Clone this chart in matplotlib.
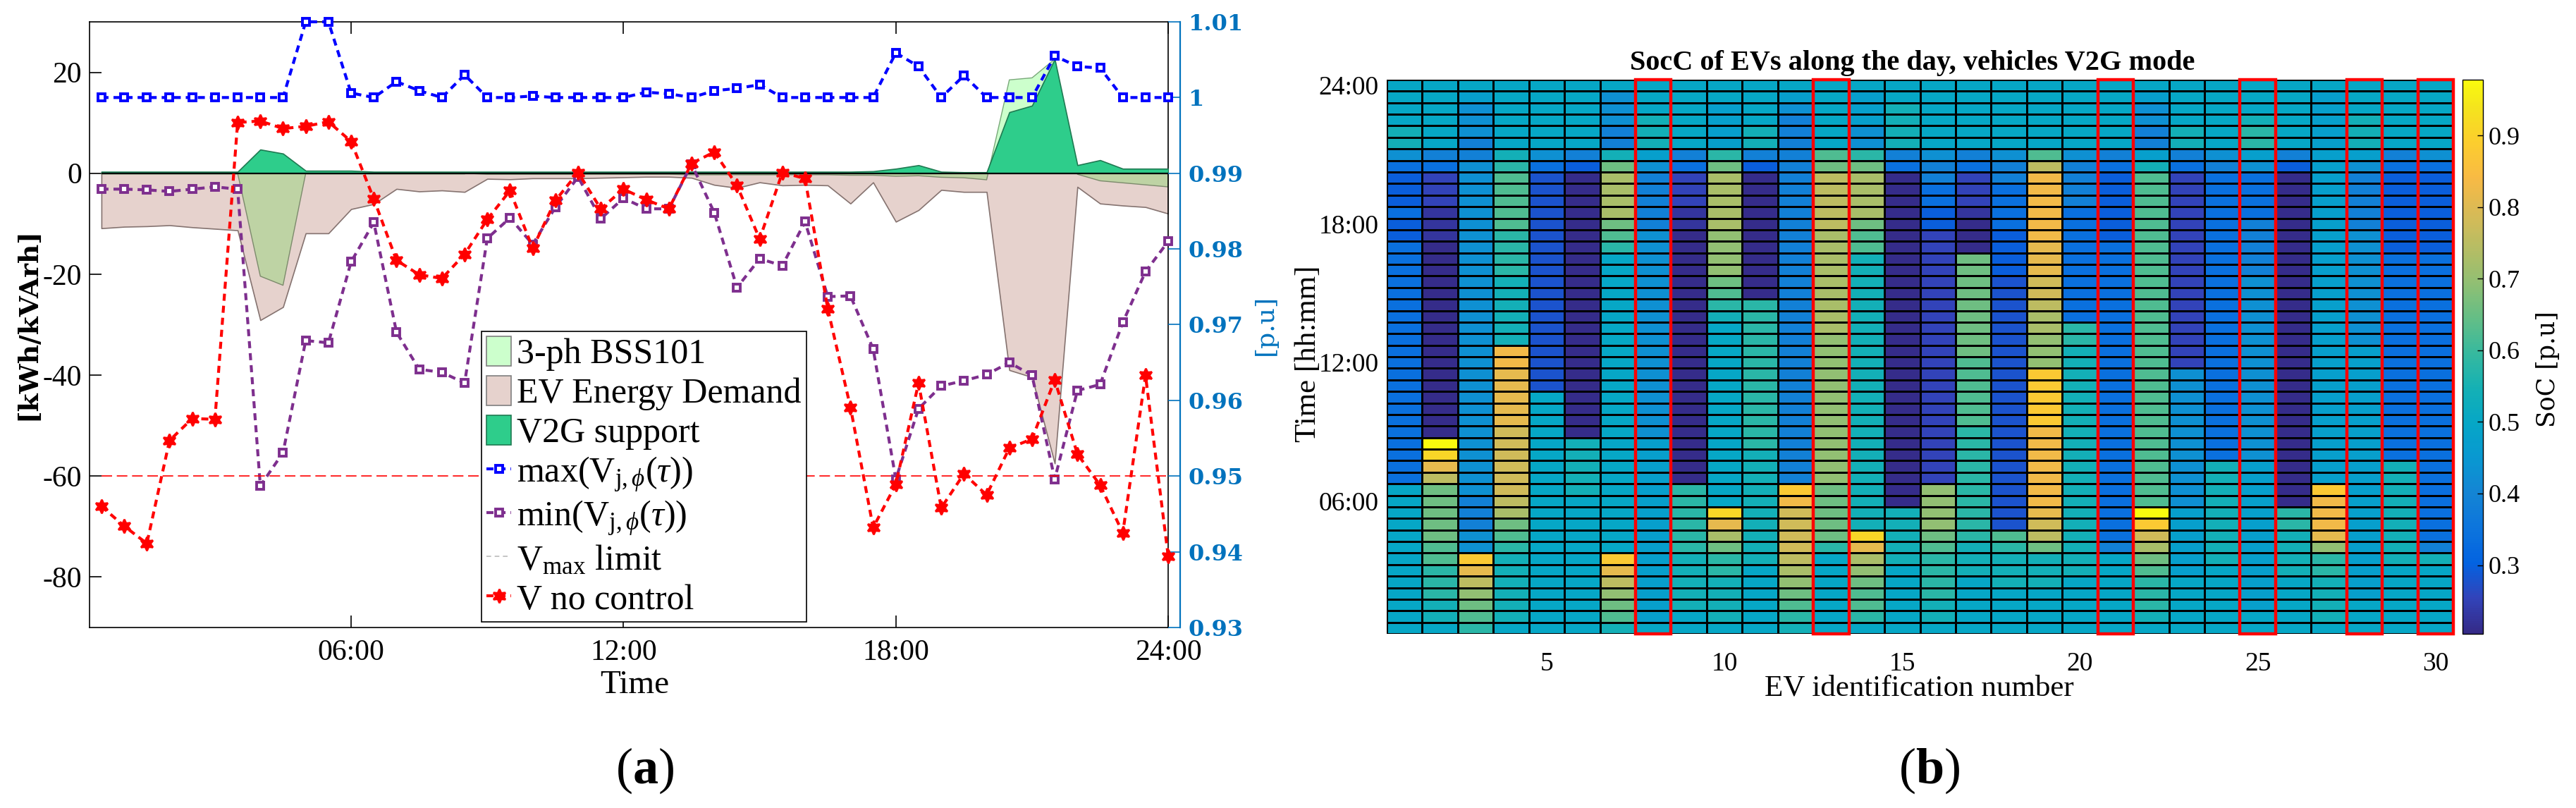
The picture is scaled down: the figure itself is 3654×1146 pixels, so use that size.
import numpy as np
import matplotlib
matplotlib.use('Agg')
import matplotlib.pyplot as plt
from matplotlib.colors import LinearSegmentedColormap
from matplotlib.patches import Patch, Rectangle
from matplotlib.lines import Line2D
from matplotlib.ticker import FormatStrFormatter

plt.rcParams['font.family'] = ['Liberation Serif', 'DejaVu Serif']
plt.rcParams['mathtext.fontset'] = 'custom'
plt.rcParams['mathtext.rm'] = 'Liberation Serif'
plt.rcParams['mathtext.it'] = 'Liberation Serif:italic'
plt.rcParams['mathtext.bf'] = 'Liberation Serif:bold'
plt.rcParams['axes.unicode_minus'] = False

# ---------------- (a) energy / voltage, half-hour steps ----------------
time = np.arange(0.5, 24.01, 0.5)

ev_demand = [-10.9, -10.6, -10.5, -10.3, -10.7, -11.0, -11.3, -29.1, -26.5, -11.9,
             -11.9, -7.1, -6.1, -3.1, -3.6, -3.4, -3.7, -1.1, -1.2, -1.0,
             -1.0, -1.0, -0.9, -0.8, -0.7, -0.7, -0.9, -2.3, -2.9, -1.8,
             -2.4, -2.3, -2.4, -6.0, -1.8, -9.6, -7.3, -3.3, -3.7, -3.7,
             -39.0, -40.4, -57.5, -2.7, -6.0, -6.4, -6.7, -8.0]
bss101 = [0.0, 0.0, 0.0, 0.0, 0.0, 0.0, 0.0, -20.4, -22.2, 0.0,
          0.0, 0.0, 0.0, 0.0, 0.0, 0.0, 0.0, -0.2, -0.2, -0.2,
          -0.2, -0.2, -0.2, -0.2, -0.2, -0.2, -0.3, -0.3, -0.3, -0.3,
          -0.3, -0.3, -0.3, -0.4, -0.4, -0.6, -0.5, -0.8, -0.9, -1.3,
          18.5, 18.9, 22.6, -0.2, -1.5, -1.9, -2.3, -2.7]
v2g = [0.3, 0.3, 0.3, 0.3, 0.3, 0.3, 0.3, 4.7, 3.9, 0.5,
       0.5, 0.5, 0.3, 0.3, 0.3, 0.3, 0.3, 0.3, 0.3, 0.3,
       0.3, 0.3, 0.3, 0.3, 0.3, 0.3, 0.3, 0.3, 0.3, 0.3,
       0.3, 0.3, 0.3, 0.3, 0.4, 0.9, 1.6, 0.3, 0.2, 0.2,
       12.1, 13.4, 22.6, 1.6, 2.6, 0.9, 0.9, 0.9]

v_max = [1.0, 1.0, 1.0, 1.0, 1.0, 1.0, 1.0, 1.0, 1.0, 1.01,
         1.01, 1.0006, 1.0, 1.0021, 1.0009, 1.0, 1.003, 1.0, 1.0, 1.0002,
         1.0, 1.0, 1.0, 1.0, 1.0007, 1.0005, 1.0, 1.0009, 1.0012, 1.0017,
         1.0, 1.0, 1.0, 1.0, 1.0, 1.0059, 1.0041, 1.0, 1.0029, 1.0,
         1.0, 1.0, 1.0055, 1.0041, 1.0039, 1.0, 1.0, 1.0]
v_min = [0.9879, 0.9879, 0.9878, 0.9876, 0.9879, 0.9882, 0.9879, 0.9487, 0.9531, 0.9679,
         0.9676, 0.9783, 0.9835, 0.9690, 0.9641, 0.9637, 0.9623, 0.9814, 0.9841, 0.9806,
         0.9855, 0.9895, 0.9840, 0.9867, 0.9853, 0.9853, 0.9912, 0.9848, 0.9749, 0.9787,
         0.9778, 0.9836, 0.9737, 0.9738, 0.9668, 0.9496, 0.9589, 0.9619, 0.9626, 0.9634,
         0.9650, 0.9633, 0.9496, 0.9613, 0.9621, 0.9703, 0.9770, 0.9810]
v_noctrl = [0.9460, 0.9434, 0.9411, 0.9547, 0.9576, 0.9575, 0.9967, 0.9969, 0.9959, 0.9962,
            0.9968, 0.9942, 0.9866, 0.9785, 0.9766, 0.9761, 0.9793, 0.9839, 0.9877, 0.9801,
            0.9864, 0.9901, 0.9853, 0.9879, 0.9865, 0.9853, 0.9913, 0.9928, 0.9884, 0.9813,
            0.9901, 0.9893, 0.9721, 0.9591, 0.9432, 0.9489, 0.9623, 0.9458, 0.9503, 0.9475,
            0.9537, 0.9549, 0.9627, 0.9529, 0.9488, 0.9425, 0.9633, 0.9394]
v_limit = 0.95

# ---------------- (b) SoC heat map ----------------
ev_ids = np.arange(1, 31)
highlight_ev = [8, 13, 21, 25, 28, 30]
soc_levels = {'N': 0.21, 'A': 0.227, 'P': 0.253, 'R': 0.278, 'B': 0.296, 'C': 0.339,
              'D': 0.388, 'E': 0.428, 'F': 0.475, 'T': 0.499, 'U': 0.542, 'V': 0.576,
              'W': 0.622, 'X': 0.656, 'Y': 0.695, 'Z': 0.726, 'O': 0.753, 'G': 0.781,
              'H': 0.812, 'K': 0.831, 'L': 0.88, 'M': 0.91, 'Q': 0.978}
# one string per EV, 48 half hours, 24:00 first
soc_cols = [
    "TTTTUUEC BBBCBBCC CCCCCCCC CCCCCCCC CCCTTTTT TTTTTTTT",
    "TTTTTTDC PPPAAANN NNNNNNNN NNNNNNNQ MHOXXXXX WWVVVUUT",
    "TFEEEDDE EEEEEEEE EEEEEEEE EEEEEEEE EEEEDDDE ELHOYXWV",
    "TTTTTTUV WWWWWVVV VUUUUUUK KHHHHHGG GGGGOZXW VUUUUUUT",
    "TTTTTTEC RRRRRRRR RRRRRRRR RRRTTTTT TTTTTTTT TTTTTTTT",
    "TTTTTTDB NNNNNNNN NNNNNNNN NNNNNNNU UUUUTTTT TTTTTTTT",
    "TEEEDDUX ZZZZXWVT TTTTTTTT TTTTTTTT TTTTTTTT TLHOYXWU",
    "TTTUUUFE DDDDDEEE EEEEEEEE EEEEEEEF FFFFFFFF FFFFFFFT",
    "TTTTTTDC PPPAANNN NNNNNNNN NNNNNNNN NNNVVVVV VUUUUUTT",
    "TTFFFFVX ZZZZZYYY YXWVUTTT TTTTTTTT TTTTTMHZ XVVUUUUT",
    "TTTTUUDB NNNNNNNN NNNVVVVV VVVVVVVV UUUUUUUU UUTTTTTT",
    "TFEDDDDD DDDDDDDD DDDDDDDD DDDDDDDD DDDLKGGG GOZYXWVU",
    "TTTTTTWX OOOOOZZZ ZZZZZZYY YYYYYYYY YYYXXXXX VTTTTTTT",
    "TFFFEEVX ZZZZXWWU UUUUUUUU UUUUUUUU UUUUUUUM HZYXWWVT",
    "TTUUUUDC NNNNNNNN NNNNNNNN NNNNNNNN NNNNNUUU UUTTTTTT",
    "TTTTTTED DCCBBPPP PPPPPPPP PPPPPPPP PPPYYYYX WVVVVUUT",
    "TTTTTTDC PPPANNNX XXXXXXXX WWWWWWVV VVVVVVVV UUUTTTTT",
    "TTTTTTED DCCCCBBB BRRRRRRR RRRRRRRR RRRRRRRW VUUUTTTT",
    "TTTTTTWO KKKKKKHH HGGOZZYY YLLLLLKK KKKKKHGO XUUUTTTT",
    "TTTTTTED DDDCCCCC CCCCCVVU UUUUUUUU UUUUUUUU UUUTTTTT",
    "TTTTTTDC BBBBBBCC CCCCCCCC CCCCCCCC CCCCCCCC DTTTTTTT",
    "TFEEDDFU WWWWWWWW WWWWWWWW WWWWWWWW WWWWWQLG ZXWVVVUT",
    "TTTTUUDC PPPPPPPP PPPPPPPP PEEEEEEE EEEEEFFF FFFTTTTT",
    "TTTTTTED CCCCCCCC CCCCCCCC CCCCCCCC CUUUUUUU UUTTTTTT",
    "TTTUVVFE CCCCDDDD DEEEEEEE EEEEEEEE EFFFFFFF FFFFFFTT",
    "TTTTTTDB NNNNNNNN NNNNNNNN NNNNNNNN NNNNNVVU UUUTTTTT",
    "TFFFFFFF FFFFFFFF FFFFFFFF FFFFFFFF FFFLKKKH YVVUUUUT",
    "TTTUUUFE DDDDDEEE EEEEEEEF FFFFFFFF FFFFFFFF FFFFFTTT",
    "TTTTTTDC BBBBBBBC CCCCCCCC CCCCCCCC CUUUUUUU UUTTTTTT",
    "TTTTTTEC BBBBBBBC CCCCCCCC CCCCCCCC CCCCCCCC DUTTTTTT",
]

# MATLAB parula (sampled)
parula_rgb = [(0.2081, 0.1663, 0.5292), (0.1959, 0.2645, 0.7279), (0.0117, 0.3875, 0.8820),
              (0.0498, 0.4586, 0.8641), (0.0793, 0.5200, 0.8312), (0.0343, 0.5966, 0.8199),
              (0.0228, 0.6535, 0.7768), (0.0843, 0.6928, 0.7062), (0.2178, 0.7250, 0.6193),
              (0.3953, 0.7459, 0.5244), (0.5709, 0.7485, 0.4494), (0.7184, 0.7411, 0.3905),
              (0.8507, 0.7299, 0.3360), (0.9739, 0.7314, 0.2666), (0.9880, 0.8066, 0.1794),
              (0.9589, 0.8949, 0.1132), (0.9763, 0.9831, 0.0538)]
parula_pos = [0, 4, 8, 12, 16, 20, 24, 28, 32, 36, 40, 44, 48, 52, 56, 60, 63]
parula = LinearSegmentedColormap.from_list(
    'parula', [(p / 63.0, c) for p, c in zip(parula_pos, parula_rgb)])

fig = plt.figure(figsize=(18.27, 5.73), dpi=200)

# ======================= (a) =======================
ax = fig.add_axes([0.0348, 0.2234, 0.4187, 0.7496])
dem = np.array(ev_demand)
bss = np.array(bss101)
vg = np.array(v2g)

ax.fill_between(time, 0, dem, facecolor='#e6d2cd', edgecolor='#857370', lw=0.6, zorder=1)
ax.fill_between(time, 0, bss, where=bss <= 0, interpolate=True,
                facecolor='#bed3a4', edgecolor='#7c8a6c', lw=0.5, zorder=2)
ax.fill_between(time, 0, bss, where=bss >= 0, interpolate=True,
                facecolor='#ccffcc', edgecolor='#79a879', lw=0.5, zorder=2)
ax.fill_between(time, 0, vg, facecolor='#2ecd8b', edgecolor='#1f7a52', lw=0.6, zorder=3)
ax.hlines(0, time[0], time[-1], color='k', lw=0.8, zorder=4)

ax.set_xlim(0.24, 24.0)
ax.set_ylim(-90, 30)
ax.set_xticks([6, 12, 18, 24])
ax.set_xticklabels(['06:00', '12:00', '18:00', '24:00'])
ax.set_yticks([-80, -60, -40, -20, 0, 20])
ax.tick_params(axis='x', direction='in', length=6, width=0.6, top=True,
               labelsize=15, pad=6)
ax.tick_params(axis='y', direction='in', length=6, width=0.6, right=False,
               labelsize=15, pad=4)
for s in ax.spines.values():
    s.set_linewidth(0.6)

axr = ax.twinx()
axr.spines['right'].set_position(('outward', 6.1))
axr.spines['right'].set_color('#0072bd')
axr.spines['right'].set_linewidth(0.8)
for side in ['top', 'bottom', 'left']:
    axr.spines[side].set_visible(False)
axr.set_ylim(0.93, 1.01)
axr.set_yticks([0.93, 0.94, 0.95, 0.96, 0.97, 0.98, 0.99, 1.0, 1.01])
axr.yaxis.set_major_formatter(FormatStrFormatter('%g'))
axr.tick_params(axis='y', direction='in', length=6, width=0.6, colors='#0072bd',
                labelsize=11.5, pad=4)
for lab in axr.get_yticklabels():
    lab.set_family('DejaVu Serif')
    lab.set_fontweight('bold')

l_max, = axr.plot(time, v_max, color='#0000ff', lw=1.5, dashes=(2.4, 1.7),
                  marker='s', ms=3.8, mfc='white', mec='#0000ff', mew=1.4, clip_on=False,
                  label=r'max(V$_{\mathrm{j},\phi}$($\tau$))')
l_min, = axr.plot(time, v_min, color='#7e2f8e', lw=1.5, dashes=(2.4, 1.7),
                  marker='s', ms=3.8, mfc='white', mec='#7e2f8e', mew=1.4, clip_on=False,
                  label=r'min(V$_{\mathrm{j},\phi}$($\tau$))')
axr.hlines(v_limit, time[0], time[-1], color='#ff0000', lw=0.6, linestyles=(0, (9, 4)))
l_nc, = axr.plot(time, v_noctrl, color='#ff0000', lw=1.5, dashes=(2.4, 1.7),
                 marker=(6, 1, 0), ms=7, mfc='#ff0000', mec='#ff0000', clip_on=False,
                 label='V no control')

h_bss = Patch(facecolor='#ccffcc', edgecolor='#7f7f7f', lw=0.6, label='3-ph BSS101')
h_dem = Patch(facecolor='#e6d2cd', edgecolor='#7f7f7f', lw=0.6, label='EV Energy Demand')
h_v2g = Patch(facecolor='#2ecd8b', edgecolor='#1f7a52', lw=0.6, label='V2G support')
h_lim = Line2D([], [], color='#bbbbbb', lw=0.6, ls=(0, (4, 3)),
               label=r'V$_{\mathrm{max}}$ limit')
leg = axr.legend(handles=[h_bss, h_dem, h_v2g, l_max, l_min, h_lim, l_nc],
                 loc='lower left', bbox_to_anchor=(0.363, 0.009), borderaxespad=0,
                 fontsize=18, frameon=True, fancybox=False, framealpha=1,
                 edgecolor='k', handlelength=0.7, handleheight=0.9,
                 handletextpad=0.15, labelspacing=0.14, borderpad=0.15)
leg.get_frame().set_linewidth(0.6)

fig.text(40 / 3654, 1 - 460 / 1146, '[kWh/kVArh]', rotation=90, ha='center', va='center',
         family='DejaVu Serif', fontweight='bold', fontsize=13.5)
fig.text(1795 / 3654, 1 - 461 / 1146, '[p.u]', rotation=90, ha='center', va='center',
         family='DejaVu Serif', fontsize=13, color='#0072bd')
fig.text(900 / 3654, 1 - 972 / 1146, 'Time', ha='center', va='center', fontsize=17)
fig.text(915 / 3654, 1 - 1093 / 1146, r'($\mathbf{a}$)', ha='center', va='center', fontsize=26)

# ======================= (b) =======================
ax2 = fig.add_axes([0.5383, 0.2155, 0.4141, 0.6859])
cols = [c.replace(' ', '') for c in soc_cols]
assert all(len(c) == 48 for c in cols)
soc = np.array([[soc_levels[ch] for ch in c] for c in cols]).T[::-1]

x_edges = np.arange(0.5, 31.0, 1.0)
y_edges = np.arange(0.25, 24.3, 0.5)
mesh = ax2.pcolormesh(x_edges, y_edges, soc, cmap=parula, vmin=0.204, vmax=0.978,
                      edgecolors='k', linewidth=0.45)
for ev in highlight_ev:
    ax2.add_patch(Rectangle((ev - 0.5, y_edges[0]), 1, y_edges[-1] - y_edges[0],
                            fill=False, edgecolor='#ff0000', lw=1.6, zorder=5, clip_on=False))
ax2.set_xlim(0.5, 30.5)
ax2.set_ylim(y_edges[0], y_edges[-1])
ax2.set_xticks(ev_ids[4::5])
ax2.set_yticks([6, 12, 18, 24])
ax2.set_yticklabels(['06:00', '12:00', '18:00', '24:00'])
ax2.tick_params(length=0, labelsize=13.5)
ax2.tick_params(axis='x', pad=9)
ax2.tick_params(axis='y', pad=4)
for s in ax2.spines.values():
    s.set_visible(False)

cax = fig.add_axes([0.9559, 0.2155, 0.0079, 0.6859])
cb = fig.colorbar(mesh, cax=cax, ticks=[0.3, 0.4, 0.5, 0.6, 0.7, 0.8, 0.9])
cb.ax.tick_params(direction='in', length=3, width=0.5, labelsize=13, pad=3)
cb.outline.set_linewidth(0.5)

fig.text(2713 / 3654, 1 - 89 / 1146, 'SocC of EVs along the day, vehicles V2G mode',
         ha='center', va='center', fontsize=14.5, fontweight='bold')
fig.text(2722 / 3654, 1 - 976 / 1146, 'EV identification number', ha='center', va='center',
         fontsize=15.5)
fig.text(1856 / 3654, 1 - 502 / 1146, 'Time [hh:mm]', rotation=90, ha='center', va='center',
         fontsize=15.5)
fig.text(3614 / 3654, 1 - 524 / 1146, 'SoC [p.u]', rotation=90, ha='center', va='center',
         family='DejaVu Serif', fontsize=12.5)
fig.text(2737 / 3654, 1 - 1093 / 1146, r'($\mathbf{b}$)', ha='center', va='center', fontsize=26)

fig.savefig('out.png', dpi=200)
